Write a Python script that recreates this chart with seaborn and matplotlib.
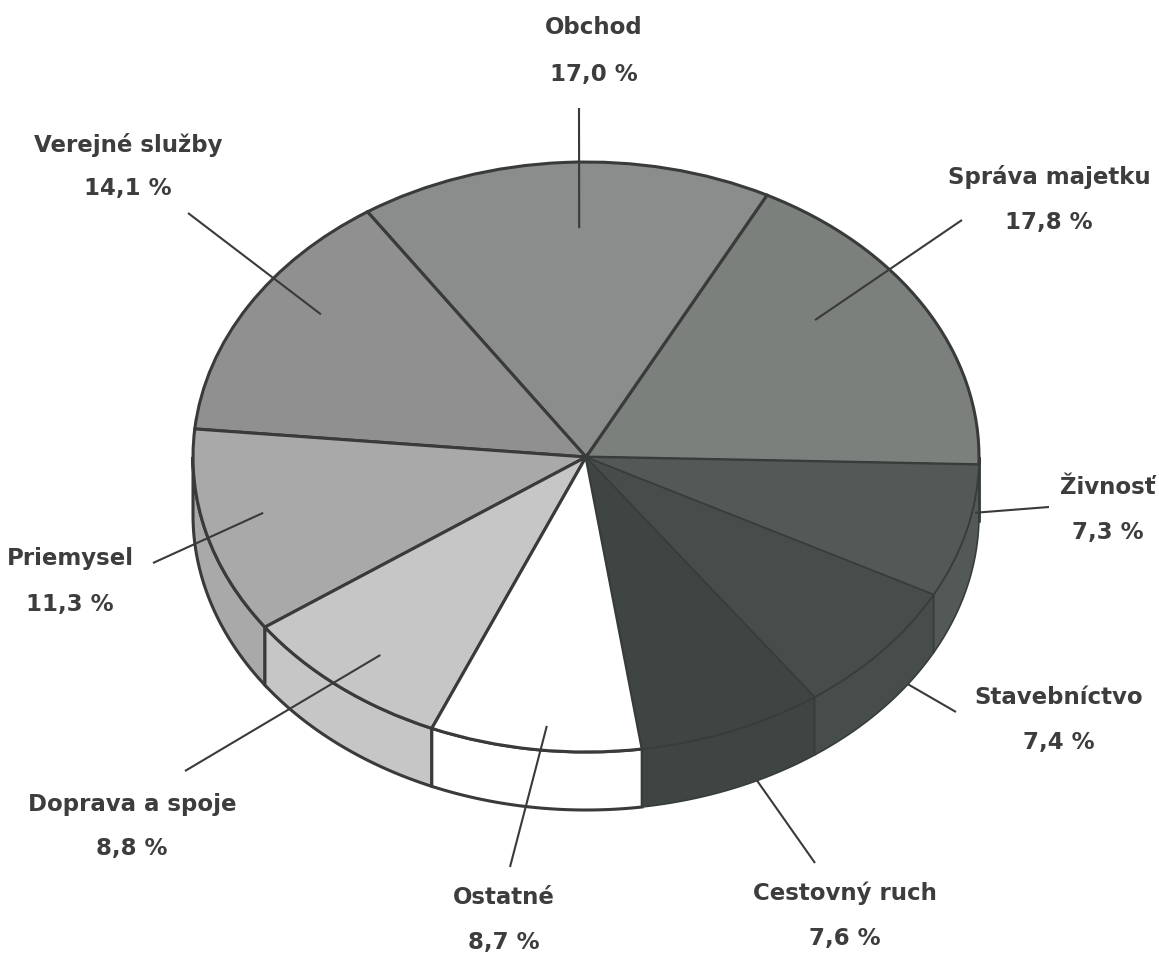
import numpy as np
import matplotlib.pyplot as plt
import seaborn as sns

# Data, counter-clockwise from the right
categories = ["Správa majetku", "Obchod", "Verejné služby", "Priemysel",
              "Doprava a spoje", "Ostatné", "Cestovný ruch", "Stavebníctvo", "Živnosť"]
shares = [17.8, 17.0, 14.1, 11.3, 8.8, 8.7, 7.6, 7.4, 7.3]
pct_labels = [f"{v:.1f}".replace(".", ",") + " %" for v in shares]
colors = ["#7b807d", "#8b8d8c", "#8f908f", "#a8a9a8", "#c6c6c6",
          "#ffffff", "#3e4542", "#464d4a", "#525956"]
dark = [False, False, False, False, False, False, True, True, True]

# Layout (pixels of the 1159x957 canvas)
W, H = 1159, 957
CX, CY, RX, RY, DEPTH = 586, 457, 393, 295, 58
EDGE = "#383b3a"
DARK_EDGE = "#373d3a"
TEXT = "#3d3d3d"

# label centre x, name y, percent y
label_pos = [(1049, 177, 222), (594, 28, 74), (128, 145, 188), (70, 559, 605),
             (132, 805, 848), (504, 898, 942), (845, 893, 938), (1059, 698, 742),
             (1108, 488, 532)]
# leader line: outer end (px), inner end as (angle nudge, radius, drop)
leader_out = [(962, 220), (579, 108), (188, 213), (153, 563), (185, 771),
              (510, 867), (815, 863), (956, 712), (1049, 507)]
leader_in = [(8, .745, 0), (-1.9, .776, 0), (-4.8, .83, 0), (-1.9, .843, 0),
             (1, .851, 0), (1.2, .917, 0), (3.9, 1, 1), (6.1, 1, 1), (6.6, 1, .25)]

D = DEPTH / RY  # side depth in data units


def px(x, y):
    return (x - CX) / RX, (CY - y) / RY


sns.set_style("white")
plt.rcParams['font.family'] = ['DejaVu Sans']

fig = plt.figure(figsize=(W / 100, H / 100), dpi=100)
ax = fig.add_axes([0, 0, 1, 1])

wedges, _ = ax.pie(shares, colors=colors, startangle=-1.5, counterclock=True,
                   radius=1, center=(0, 0),
                   wedgeprops=dict(edgecolor=EDGE, linewidth=2.2, zorder=3))

# dark slices only show faint borders between them
for w, is_dark in zip(wedges, dark):
    if is_dark:
        w.set_edgecolor(DARK_EDGE)
        w.set_linewidth(1.2)

# side of the 3D disc (front half only)
for w, c, is_dark in zip(wedges, colors, dark):
    a, b = w.theta1, w.theta2
    for lo_lim, hi_lim in [(180, 360), (-180, 0)]:
        lo, hi = max(a, lo_lim), min(b, hi_lim)
        if hi <= lo:
            continue
        t = np.radians(np.linspace(lo, hi, 80))
        xs = np.concatenate([np.cos(t), np.cos(t[::-1])])
        ys = np.concatenate([np.sin(t), np.sin(t[::-1]) - D])
        ax.fill(xs, ys, facecolor=c, edgecolor=DARK_EDGE if is_dark else EDGE,
                linewidth=1.2 if is_dark else 2.2, zorder=2)

# labels and leader lines
for w, name, pct, (lx, ny, py), (ox, oy), (dth, r, drop) in zip(
        wedges, categories, pct_labels, label_pos, leader_out, leader_in):
    mid = np.radians((w.theta1 + w.theta2) / 2 + dth)
    ix, iy = r * np.cos(mid), r * np.sin(mid) - drop * D
    ox_d, oy_d = px(ox, oy)
    ax.plot([ix, ox_d], [iy, oy_d], color=EDGE, linewidth=1.5, zorder=4,
            solid_capstyle="butt")
    ax.text(*px(lx, ny), name, ha="center", va="center", fontsize=16.5,
            fontweight="bold", color=TEXT)
    ax.text(*px(lx, py), pct, ha="center", va="center", fontsize=16.5,
            fontweight="bold", color=TEXT)

ax.set_aspect("auto")
ax.set_xlim(px(0, 0)[0], px(W, 0)[0])
ax.set_ylim(px(0, H)[1], px(0, 0)[1])
ax.axis("off")

fig.savefig("out.png", dpi=100, facecolor="white")
plt.close(fig)
